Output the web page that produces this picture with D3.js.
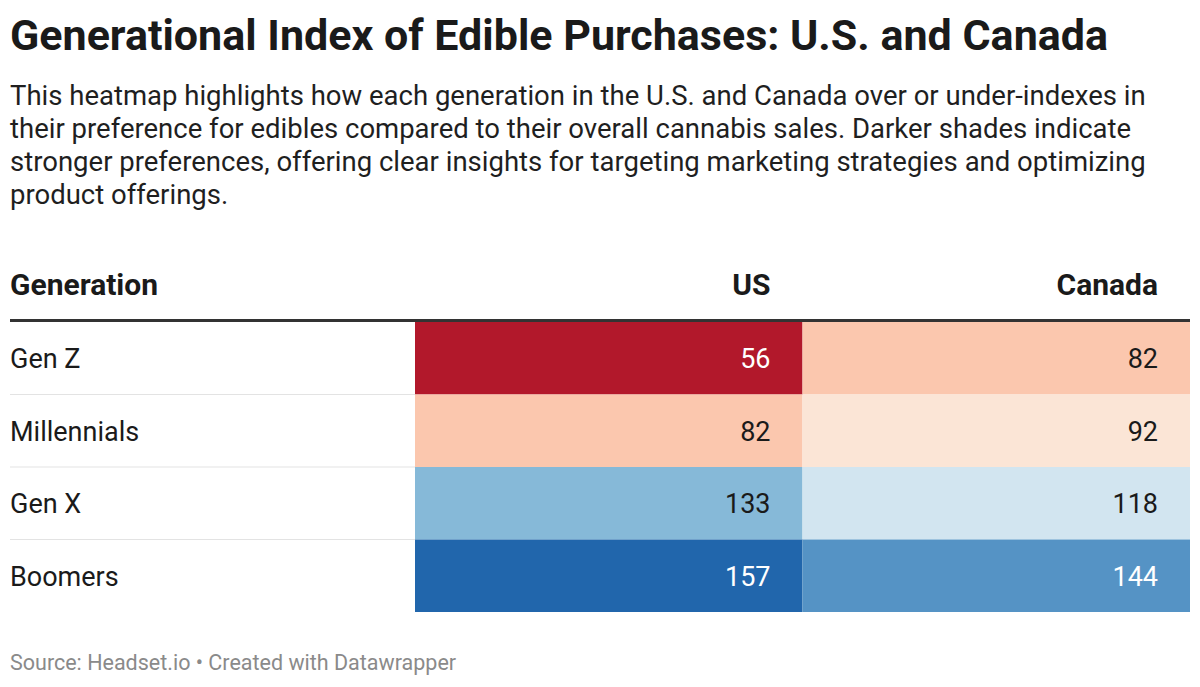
<!DOCTYPE html>
<html>
<head>
<meta charset="utf-8">
<script src="https://cdn.jsdelivr.net/npm/d3@7"></script>
<style>
  body { margin: 0; background: #fff; }
  svg { display: block; font-family: Roboto, "Noto Sans", sans-serif; }
</style>
</head>
<body>
<svg id="chart" width="1200" height="687"></svg>
<script>
// Datos de la tabla
const generations = ['Gen Z', 'Millennials', 'Gen X', 'Boomers'];
const columns = ['US', 'Canada'];
const usValues = [56, 82, 133, 157];
const canadaValues = [82, 92, 118, 144];

const titleText = 'Generational Index of Edible Purchases: U.S. and Canada';
const subtitleLines = [
    'This heatmap highlights how each generation in the U.S. and Canada over or under-indexes in',
    'their preference for edibles compared to their overall cannabis sales. Darker shades indicate',
    'stronger preferences, offering clear insights for targeting marketing strategies and optimizing',
    'product offerings.'
];
const sourceText = 'Source: Headset.io • Created with Datawrapper';

// Paleta divergente (rojo = bajo índice, azul = alto)
const colorStops = [56, 82, 92, 100, 118, 133, 144, 157];
const colorRange = ['#b2182b', '#fbc7ae', '#fbe5d6', '#f7f7f7', '#d2e5f0', '#86b9d8', '#5593c5', '#2166ac'];
const color = d3.scaleLinear().domain(colorStops).range(colorRange).interpolate(d3.interpolateRgb);

const W = 1200, H = 687;
const left = 10, right = 1190;
const tableTop = 322, tableBottom = 612;
const svg = d3.select('#chart');

const x = d3.scaleBand().domain(columns).range([415, right]);
const y = d3.scaleBand().domain(generations).range([tableTop, tableBottom]);
const valuesByCol = { US: usValues, Canada: canadaValues };

// Título y subtítulo
svg.append('text')
    .attr('x', left).attr('y', 50)
    .attr('font-size', 43).attr('font-weight', 700).attr('fill', '#1a1a1a')
    .text(titleText);

svg.append('g').selectAll('text')
    .data(subtitleLines)
    .join('text')
    .attr('x', left)
    .attr('y', (d, i) => 105 + i * 33)
    .attr('font-size', 27.5).attr('fill', '#1f1f1f')
    .text(d => d);

// Cabecera
const headerY = 295;
svg.append('text')
    .attr('x', left).attr('y', headerY)
    .attr('font-size', 30).attr('font-weight', 700).attr('fill', '#1a1a1a')
    .text('Generation');

svg.append('g').selectAll('text')
    .data(columns)
    .join('text')
    .attr('x', d => x(d) + x.bandwidth() - 32)
    .attr('y', headerY)
    .attr('text-anchor', 'end')
    .attr('font-size', 30).attr('font-weight', 700).attr('fill', '#1a1a1a')
    .text(d => d);

// Celdas
const cells = [];
generations.forEach((g, i) => {
    columns.forEach(c => cells.push({ gen: g, col: c, value: valuesByCol[c][i] }));
});

svg.append('g').selectAll('rect')
    .data(cells)
    .join('rect')
    .attr('x', d => x(d.col))
    .attr('y', d => y(d.gen))
    .attr('width', x.bandwidth())
    .attr('height', y.bandwidth())
    .attr('fill', d => color(d.value));

// Separadores de filas
svg.append('g').selectAll('line')
    .data(generations.slice(1))
    .join('line')
    .attr('x1', left).attr('x2', x('US'))
    .attr('y1', d => y(d)).attr('y2', d => y(d))
    .attr('stroke', '#e3e3e3').attr('stroke-width', 1);

// Etiquetas de filas
svg.append('g').selectAll('text')
    .data(generations)
    .join('text')
    .attr('x', left)
    .attr('y', d => y(d) + y.bandwidth() / 2 + 10)
    .attr('font-size', 27).attr('fill', '#1a1a1a')
    .text(d => d);

// Valores
svg.append('g').selectAll('text')
    .data(cells)
    .join('text')
    .attr('x', d => x(d.col) + x.bandwidth() - 32)
    .attr('y', d => y(d.gen) + y.bandwidth() / 2 + 10)
    .attr('text-anchor', 'end')
    .attr('font-size', 27)
    .attr('fill', d => (d.value < 65 || d.value > 140) ? '#ffffff' : '#1a1a1a')
    .text(d => d.value);

// Línea gruesa bajo la cabecera
svg.append('line')
    .attr('x1', left).attr('x2', right)
    .attr('y1', tableTop - 1.5).attr('y2', tableTop - 1.5)
    .attr('stroke', '#333').attr('stroke-width', 3);

// Fuente
svg.append('text')
    .attr('x', left).attr('y', 670)
    .attr('font-size', 21.5).attr('fill', '#8a8a8a')
    .text(sourceText);
</script>
</body>
</html>
